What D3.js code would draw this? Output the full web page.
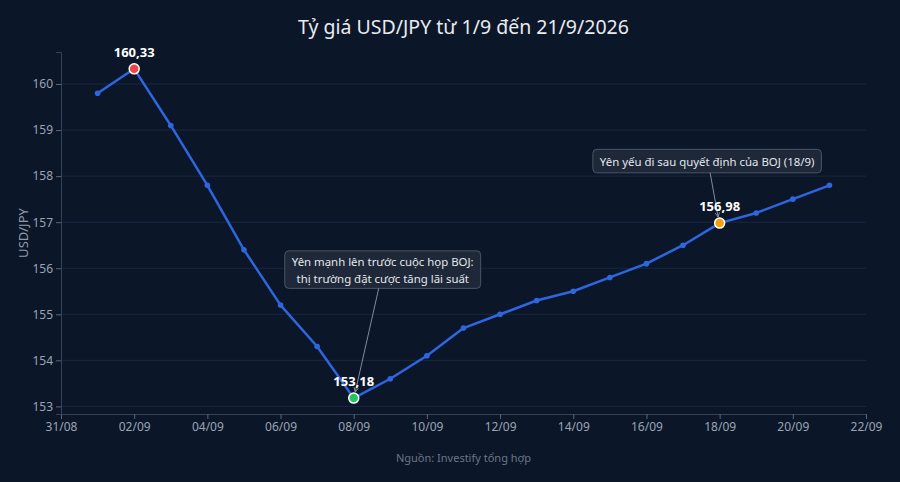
<!DOCTYPE html>
<html>
<head>
<meta charset="utf-8">
<script src="https://cdn.jsdelivr.net/npm/d3@7/dist/d3.min.js"></script>
<style>
  html, body { margin: 0; padding: 0; background: #0b1628; }
  svg { display: block; font-family: "Noto Sans", "Open Sans", sans-serif; }
</style>
</head>
<body>
<svg id="chart" width="900" height="482"></svg>
<script>
(function UsdJpyChart() {

  'use strict';

  // data
  var days = [1, 2, 3, 4, 5, 6, 7, 8, 9, 10, 11, 12, 13, 14, 15, 16, 17, 18, 19, 20, 21];
  var rates = [159.8, 160.33, 159.1, 157.8, 156.4, 155.2, 154.3, 153.18, 153.6, 154.1,
    154.7, 155.0, 155.3, 155.5, 155.8, 156.1, 156.5, 156.98, 157.2, 157.5, 157.8];
  var yTicks = [153, 154, 155, 156, 157, 158, 159, 160];
  var xTickDays = [0, 2, 4, 6, 8, 10, 12, 14, 16, 18, 20, 22];
  var highlightDays = [2, 8, 18];
  var noteDays = [8, 18];
  var noteTexts = [
    ['Yên mạnh lên trước cuộc họp BOJ:', 'thị trường đặt cược tăng lãi suất'],
    ['Yên yếu đi sau quyết định của BOJ (18/9)']
  ];

  var title = 'Tỷ giá USD/JPY từ 1/9 đến 21/9/2026';
  var source = 'Nguồn: Investify tổng hợp';

  // styles and layout
  var highlightColors = ['#ef4444', '#22c55e', '#f59e0b'];
  var noteOffsets = [{ dx: 29, dy: -128.5 }, { dx: -12.5, dy: -62 }];

  var margin = { top: 52, right: 34, bottom: 68, left: 61 },
    width = 900,
    height = 482,
    innerW = width - margin.left - margin.right,
    innerH = height - margin.top - margin.bottom;

  var svg = d3.select('#chart');

  function toDate(d) {
    return new Date(2026, 7, 31 + d);
  }

  var x = d3.scaleTime()
    .domain([toDate(0), toDate(22)])
    .range([0, innerW]);

  var y = d3.scaleLinear()
    .domain([152.835, 160.695])
    .range([innerH, 0]);

  var g = svg.append('g')
    .attr('transform', 'translate(' + margin.left + ',' + margin.top + ')');

  // grid
  g.append('g')
    .selectAll('line')
    .data(yTicks)
    .enter()
    .append('line')
    .attr('x1', 0)
    .attr('x2', innerW)
    .attr('y1', function (d) { return y(d); })
    .attr('y2', function (d) { return y(d); })
    .style('stroke', '#1a2740')
    .attr('stroke-width', 1);

  // axes
  var xAxis = g.append('g')
    .attr('transform', 'translate(0,' + innerH + ')')
    .call(d3.axisBottom(x)
      .tickValues(xTickDays.map(toDate))
      .tickFormat(d3.timeFormat('%d/%m'))
      .tickSize(5)
      .tickPadding(3));

  var yAxis = g.append('g')
    .call(d3.axisLeft(y)
      .tickValues(yTicks)
      .tickSize(5)
      .tickPadding(3));

  [xAxis, yAxis].forEach(function styleAxis(a) {
    a.select('.domain').style('stroke', '#34425a');
    a.selectAll('.tick line').style('stroke', '#5b6678');
    a.selectAll('.tick text')
      .style('fill', '#9aa4b5')
      .style('font-size', '12px')
      .style('font-family', '"Noto Sans", sans-serif');
  });

  // line
  var points = days.map(function (d, i) { return { day: d, value: rates[i] }; });

  var line = d3.line()
    .x(function (d) { return x(toDate(d.day)); })
    .y(function (d) { return y(d.value); });

  g.append('path')
    .datum(points)
    .attr('d', line)
    .style('fill', 'none')
    .style('stroke', '#2e66e0')
    .attr('stroke-width', 2.5)
    .attr('stroke-linejoin', 'round');

  g.append('g')
    .selectAll('circle')
    .data(points)
    .enter()
    .append('circle')
    .attr('cx', function (d) { return x(toDate(d.day)); })
    .attr('cy', function (d) { return y(d.value); })
    .attr('r', 2.8)
    .style('fill', '#2e66e0');

  function valueOf(day) {
    return rates[days.indexOf(day)];
  }

  // annotations
  noteDays.forEach(function drawNote(day, k) {
    var lines = noteTexts[k],
      off = noteOffsets[k],
      px = x(toDate(day)),
      py = y(valueOf(day)),
      cx = px + off.dx,
      cy = py + off.dy,
      lineH = 17,
      boxH = lines.length === 1 ? 23.5 : 37.5,
      top = cy - boxH / 2;

    var grp = g.append('g');

    var txt = grp.append('text')
      .attr('text-anchor', 'middle')
      .style('fill', '#e3e7ee')
      .style('font-size', '11.4px');

    lines.forEach(function (l, i) {
      txt.append('tspan')
        .attr('x', cx)
        .attr('y', top + (boxH - lines.length * lineH) / 2 + 13 + i * lineH)
        .text(l);
    });

    var bb = txt.node().getBBox();
    var boxW = bb.width + 14;

    grp.insert('rect', 'text')
      .attr('x', cx - boxW / 2)
      .attr('y', top)
      .attr('width', boxW)
      .attr('height', boxH)
      .attr('rx', 4)
      .style('fill', '#1e2838')
      .style('stroke', '#4a5568')
      .attr('stroke-width', 1);

    // arrow
    var x0 = cx + (off.dx > 0 ? -4 : 3),
      y0 = top + boxH,
      x1 = px + (off.dx > 0 ? 1.5 : -1.5),
      y1 = py - 6;
    var ang = Math.atan2(y1 - y0, x1 - x0);
    grp.append('line')
      .attr('x1', x0).attr('y1', y0)
      .attr('x2', x1).attr('y2', y1)
      .style('stroke', '#7f8a9c')
      .attr('stroke-width', 1);
    var ah = 5;
    grp.append('path')
      .attr('d', 'M' + x1 + ',' + y1 +
        'L' + (x1 - ah * Math.cos(ang - 0.45)) + ',' + (y1 - ah * Math.sin(ang - 0.45)) +
        'M' + x1 + ',' + y1 +
        'L' + (x1 - ah * Math.cos(ang + 0.45)) + ',' + (y1 - ah * Math.sin(ang + 0.45)))
      .style('fill', 'none')
      .style('stroke', '#7f8a9c')
      .attr('stroke-width', 1);
  });

  // highlighted points
  highlightDays.forEach(function drawHighlight(day, k) {
    var v = valueOf(day),
      px = x(toDate(day)),
      py = y(v);

    g.append('circle')
      .attr('cx', px)
      .attr('cy', py)
      .attr('r', 5)
      .style('fill', highlightColors[k])
      .style('stroke', '#ffffff')
      .attr('stroke-width', 1.5);

    g.append('text')
      .attr('x', px)
      .attr('y', py - 12)
      .attr('text-anchor', 'middle')
      .style('fill', '#ffffff')
      .style('font-size', '13px')
      .style('font-weight', 'bold')
      .text(v.toFixed(2).replace('.', ','));
  });

  // titles
  svg.append('text')
    .attr('x', margin.left + innerW / 2)
    .attr('y', 34)
    .attr('text-anchor', 'middle')
    .style('fill', '#e8ebf0')
    .style('font-size', '19.5px')
    .text(title);

  svg.append('text')
    .attr('transform', 'translate(28,' + (margin.top + innerH / 2) + ') rotate(-90)')
    .attr('text-anchor', 'middle')
    .style('fill', '#8f99aa')
    .style('font-size', '13px')
    .text('USD/JPY');

  svg.append('text')
    .attr('x', margin.left + innerW / 2)
    .attr('y', 462)
    .attr('text-anchor', 'middle')
    .style('fill', '#6b7588')
    .style('font-size', '11px')
    .text(source);

})();
</script>
</body>
</html>
